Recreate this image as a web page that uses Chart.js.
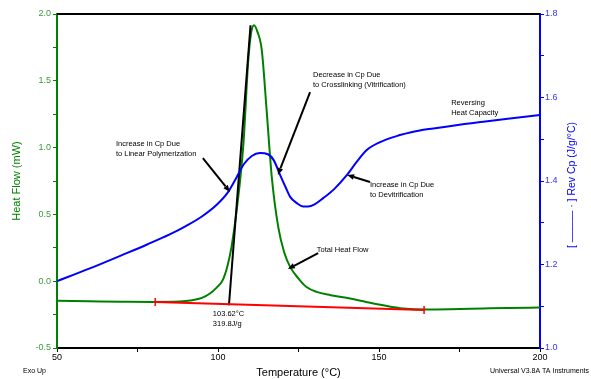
<!DOCTYPE html>
<html>
<head>
<meta charset="utf-8">
<script src="https://cdn.jsdelivr.net/npm/chart.js@4.4.1/dist/chart.umd.min.js"></script>
<style>
    body { margin: 0; background: #fff; }
    canvas { display: block; }
</style>
</head>
<body>
<canvas id="dscChart" width="591" height="379"></canvas>
<script>
// total heat flow (mW) vs temperature
var heatFlowTemp = [50, 60, 70, 80, 88, 92, 95, 97.5, 99.5, 101.5, 103, 104.2, 105.8, 107.9, 109.4, 110.3, 111.2, 112.2, 113.6, 115.1, 116.7, 118.7, 120.5, 122.4, 125, 127.5, 130.6, 135, 141, 146, 151.3, 157.5, 164.8, 172, 182.4, 190, 200]
var heatFlowValue = [-0.147, -0.150, -0.153, -0.155, -0.152, -0.142, -0.125, -0.092, -0.05, 0.01, 0.12, 0.257, 0.53, 1.03, 1.654, 1.86, 1.916, 1.87, 1.73, 1.28, 0.78, 0.406, 0.22, 0.107, 0.02, -0.043, -0.08, -0.105, -0.13, -0.155, -0.18, -0.204, -0.212, -0.21, -0.204, -0.2, -0.197]

// reversing heat capacity (J/g/°C) vs temperature
var revCpTemp = [50, 60, 70, 78, 85, 90, 95, 99.6, 103, 105.5, 108, 110.5, 113, 115.5, 117.3, 119.3, 121, 122.4, 124.5, 126.5, 128, 130, 132.7, 136, 140, 143, 146.2, 150, 156.5, 160, 166.9, 175, 182.4, 190, 200]
var revCpValue = [1.160, 1.190, 1.222, 1.248, 1.272, 1.292, 1.315, 1.343, 1.372, 1.405, 1.440, 1.460, 1.467, 1.464, 1.450, 1.414, 1.385, 1.362, 1.347, 1.339, 1.339, 1.344, 1.359, 1.380, 1.414, 1.445, 1.474, 1.492, 1.510, 1.517, 1.526, 1.535, 1.542, 1.549, 1.558]

// integration baseline and onset tangent
var baselineTemp = [80.5, 164]
var baselineValue = [-0.155, -0.215]
var tangentTemp = [103.4, 110.1]
var tangentValue = [-0.18, 1.916]

var xTicks = [50, 100, 150, 200]

// notes, anchored in data space (temperature, heat flow)
var notes = [
    {t: 68.3, v: 1.027, text: `Increase in Cp Due`},
    {t: 68.3, v: 0.952, text: `to Linear Polymerization`},
    {t: 129.5, v: 1.543, text: `Decrease in Cp Due`},
    {t: 129.5, v: 1.469, text: `to Crosslinking (Vitrification)`},
    {t: 147.2, v: 0.720, text: `Increase in Cp Due`},
    {t: 147.2, v: 0.645, text: `to Devitrification`},
    {t: 172.4, v: 1.334, text: `Reversing`},
    {t: 172.4, v: 1.259, text: `Heat Capacity`},
    {t: 130.7, v: 0.234, text: `Total Heat Flow`},
    {t: 98.4, v: -0.245, text: `103.62°C`},
    {t: 98.4, v: -0.320, text: `319.8J/g`}
]
var arrows = [
    {t0: 95.3, v0: 0.922, t1: 103.7, v1: 0.668},
    {t0: 128.6, v0: 1.416, t1: 118.6, v1: 0.795},
    {t0: 147.2, v0: 0.743, t1: 140.1, v1: 0.795},
    {t0: 131.1, v0: 0.211, t1: 121.7, v1: 0.091}
]

var green = `#008000`
var blue = `#0000ff`
var fontName = `"Liberation Sans", Arial, sans-serif`

function toPoints(xs, ys){
    var list = []
    for(var pos = 0; pos < xs.length; pos++){
        list.push({x: xs[pos], y: ys[pos]})
    }
    return list
}

function isStep(value, step){
    return Math.abs(value / step - Math.round(value / step)) < 1e-6
}

// draws frame top, notes, arrows and the free texts
var decorPlugin = {
    id: 'decor',
    afterDatasetsDraw(chart){
        var ctx = chart.ctx
        var area = chart.chartArea
        var xs = chart.scales.x
        var ys = chart.scales.y

        ctx.save()
        ctx.strokeStyle = `#000`
        ctx.lineWidth = 2
        ctx.beginPath()
        ctx.moveTo(area.left, area.top)
        ctx.lineTo(area.right, area.top)
        ctx.stroke()

        ctx.fillStyle = `#000`
        ctx.font = `7.5px ${fontName}`
        ctx.textAlign = 'left'
        ctx.textBaseline = 'middle'
        notes.forEach(function(n){
            ctx.fillText(n.text, xs.getPixelForValue(n.t), ys.getPixelForValue(n.v))
        })

        ctx.lineWidth = 2
        arrows.forEach(function(a){
            var x0 = xs.getPixelForValue(a.t0), y0 = ys.getPixelForValue(a.v0)
            var x1 = xs.getPixelForValue(a.t1), y1 = ys.getPixelForValue(a.v1)
            var ang = Math.atan2(y1 - y0, x1 - x0)
            var hx = x1 - 7 * Math.cos(ang), hy = y1 - 7 * Math.sin(ang)
            ctx.beginPath()
            ctx.moveTo(x0, y0)
            ctx.lineTo(hx, hy)
            ctx.stroke()
            ctx.beginPath()
            ctx.moveTo(x1, y1)
            ctx.lineTo(hx + 2.8 * Math.sin(ang), hy - 2.8 * Math.cos(ang))
            ctx.lineTo(hx - 2.8 * Math.sin(ang), hy + 2.8 * Math.cos(ang))
            ctx.closePath()
            ctx.fill()
        })

        ctx.font = `7px ${fontName}`
        ctx.fillText(`Exo Up`, 23, 371)
        ctx.textAlign = 'right'
        ctx.fillText(`Universal V3.8A TA Instruments`, 589, 371)

        ctx.textAlign = 'center'
        ctx.font = `11px ${fontName}`
        ctx.fillText(`Temperature (°C)`, (area.left + area.right) / 2, 373)

        ctx.translate(17, (area.top + area.bottom) / 2)
        ctx.rotate(-Math.PI / 2)
        ctx.fillStyle = green
        ctx.fillText(`Heat Flow (mW)`, 0, 0)
        ctx.restore()

        ctx.save()
        ctx.translate(572, 185)
        ctx.rotate(-Math.PI / 2)
        ctx.fillStyle = blue
        ctx.textAlign = 'center'
        ctx.textBaseline = 'middle'
        ctx.font = `10.5px ${fontName}`
        ctx.fillText(`[ ——— · ] Rev Cp (J/g/°C)`, 0, 0)
        ctx.restore()
    }
}

new Chart(document.getElementById('dscChart'), {
    type: 'line',
    data: {
        datasets: [{
            label: 'Baseline',
            data: toPoints(baselineTemp, baselineValue),
            yAxisID: 'y',
            borderColor: `#ff0000`,
            borderWidth: 2,
            pointStyle: 'line',
            pointRotation: 90,
            pointRadius: 4,
            pointBorderColor: `#ff0000`,
            pointBorderWidth: 1.5,
            order: 1
        }, {
            label: 'Total Heat Flow',
            data: toPoints(heatFlowTemp, heatFlowValue),
            yAxisID: 'y',
            borderColor: green,
            borderWidth: 2,
            pointRadius: 0,
            cubicInterpolationMode: 'monotone',
            order: 3
        }, {
            label: 'Onset',
            data: toPoints(tangentTemp, tangentValue),
            yAxisID: 'y',
            borderColor: `#000`,
            borderWidth: 2,
            pointRadius: 0,
            order: 2
        }, {
            label: 'Rev Cp',
            data: toPoints(revCpTemp, revCpValue),
            yAxisID: 'y1',
            borderColor: blue,
            borderWidth: 2,
            pointRadius: 0,
            cubicInterpolationMode: 'monotone',
            order: 0
        }]
    },
    options: {
        responsive: false,
        animation: false,
        layout: { padding: { top: 14, left: 0, right: 0, bottom: 0 } },
        plugins: {
            legend: { display: false },
            tooltip: { enabled: false }
        },
        scales: {
            x: {
                type: 'linear',
                min: 50,
                max: 200,
                afterFit: function(scale){ scale.height = 31 },
                afterBuildTicks: function(scale){
                    var list = []
                    for(var v = 50; v <= 200; v += 25){ list.push({value: v}) }
                    scale.ticks = list
                },
                border: { color: `#000`, width: 2 },
                grid: { drawOnChartArea: false, color: `#000`, tickLength: 4 },
                ticks: {
                    color: `#000`,
                    padding: 0,
                    maxRotation: 0,
                    autoSkip: false,
                    font: { family: fontName, size: 9 },
                    callback: function(value){ return xTicks.indexOf(value) >= 0 ? String(value) : `` }
                }
            },
            y: {
                position: 'left',
                min: -0.5,
                max: 2.0,
                afterFit: function(scale){ scale.width = 57 },
                border: { color: green, width: 2 },
                grid: { drawOnChartArea: false, color: green, tickLength: 4 },
                ticks: {
                    stepSize: 0.25,
                    color: `#3a9a3a`,
                    padding: 2,
                    autoSkip: false,
                    font: { family: fontName, size: 9 },
                    callback: function(value){ return isStep(value, 0.5) ? value.toFixed(1) : `` }
                }
            },
            y1: {
                position: 'right',
                min: 1.0,
                max: 1.8,
                afterFit: function(scale){ scale.width = 51 },
                border: { color: blue, width: 2 },
                grid: { drawOnChartArea: false, color: blue, tickLength: 4 },
                ticks: {
                    stepSize: 0.1,
                    color: `#3333ff`,
                    padding: 1,
                    autoSkip: false,
                    font: { family: fontName, size: 9 },
                    callback: function(value){ return isStep(value, 0.2) ? value.toFixed(1) : `` }
                }
            }
        }
    },
    plugins: [decorPlugin]
})
</script>
</body>
</html>
